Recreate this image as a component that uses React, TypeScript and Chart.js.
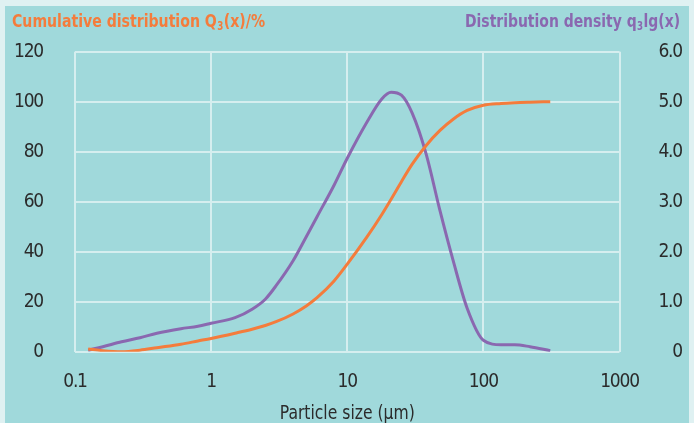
import React, { useEffect, useRef } from "react";
import { Chart, registerables } from "chart.js";

Chart.register(...registerables);

const sizes = [0.125, 0.16, 0.22, 0.3, 0.4, 0.6, 0.8, 1, 1.5, 2, 2.5, 3, 4, 5, 6, 8, 10, 14, 18, 21, 25, 30, 38, 48, 60, 76, 100, 135, 170, 220, 310];
const cumulative = [1.1, 0.4, 0, 0.6, 1.6, 3, 4.3, 5.3, 7.4, 9, 10.5, 12, 15.1, 18.3, 21.6, 28.3, 35, 46, 55, 61, 68, 75, 82.5, 88.5, 93, 96.5, 98.6, 99.3, 99.6, 99.8, 100];
const density = [0.03, 0.1, 0.2, 0.28, 0.37, 0.46, 0.51, 0.57, 0.68, 0.85, 1.05, 1.32, 1.82, 2.3, 2.7, 3.33, 3.87, 4.6, 5.06, 5.19, 5.13, 4.77, 3.95, 2.82, 1.82, 0.87, 0.23, 0.14, 0.14, 0.1, 0.02];
const xTicks = [0.1, 1, 10, 100, 1000];
const xTickLabels = ["0.1", "1", "10", "100", "1000"];

const leftTitle = ["Cumulative distribution Q", "3", "(x)/%"];
const rightTitle = ["Distribution density q", "3", "lg(x)"];
const xTitle = "Particle size (µm)";

const FONT = "'DejaVu Sans Condensed', 'Liberation Sans', sans-serif";
const ORANGE = "#f47c3c";
const PURPLE = "#8a68b0";
const TEAL = "#a0d9db";
const FRAME = "#dff1f2";
const GRID = "#d5eeef";
const TEXT = "#2b2b2b";

const drawParts = (
  ctx: CanvasRenderingContext2D,
  parts: string[],
  x: number,
  y: number,
  align: "left" | "right",
  targetWidth: number,
  color: string
) => {
  const big = `bold 18.5px ${FONT}`;
  const small = `bold 11.5px ${FONT}`;
  ctx.font = big;
  const w0 = ctx.measureText(parts[0]).width;
  const w2 = ctx.measureText(parts[2]).width;
  ctx.font = small;
  const w1 = ctx.measureText(parts[1]).width;
  const total = w0 + w1 + w2 + 1;
  const k = targetWidth / total;
  const start = align === "left" ? x : x - targetWidth;
  ctx.save();
  ctx.translate(start, y);
  ctx.scale(k, 1);
  ctx.fillStyle = color;
  ctx.textAlign = "left";
  ctx.textBaseline = "alphabetic";
  ctx.font = big;
  ctx.fillText(parts[0], 0, 0);
  ctx.font = small;
  ctx.fillText(parts[1], w0 + 0.5, 3.5);
  ctx.font = big;
  ctx.fillText(parts[2], w0 + w1 + 1, 0);
  ctx.restore();
};

const decorPlugin = {
  id: "decor",
  beforeDraw(chart: any) {
    const ctx = chart.ctx as CanvasRenderingContext2D;
    ctx.save();
    ctx.fillStyle = FRAME;
    ctx.fillRect(0, 0, chart.width, chart.height);
    ctx.fillStyle = TEAL;
    ctx.fillRect(5, 6, 684, chart.height - 6);
    ctx.restore();
    (ctx as any).letterSpacing = "-1.2px";
  },
  afterDraw(chart: any) {
    const ctx = chart.ctx as CanvasRenderingContext2D;
    (ctx as any).letterSpacing = "0px";
    ctx.save();
    drawParts(ctx, leftTitle, 12, 26.5, "left", 253, ORANGE);
    drawParts(ctx, rightTitle, 680, 26.5, "right", 215, PURPLE);
    const area = chart.chartArea;
    ctx.font = `20px ${FONT}`;
    const w = ctx.measureText(xTitle).width;
    const k = 135 / w;
    ctx.translate((area.left + area.right) / 2, 419);
    ctx.scale(k, 1);
    ctx.fillStyle = TEXT;
    ctx.textAlign = "center";
    ctx.textBaseline = "alphabetic";
    ctx.fillText(xTitle, 0, 0);
    ctx.restore();
  },
};

export default function App() {
  const ref = useRef<HTMLCanvasElement>(null);
  useEffect(() => {
    if (!ref.current) return;
    const tickFont = { family: FONT, size: 19 };
    const chart = new Chart(ref.current, {
      type: "line",
      data: {
        datasets: [
          {
            label: "Cumulative distribution",
            data: sizes.map((s, i) => ({ x: s, y: cumulative[i] })),
            borderColor: ORANGE,
            borderWidth: 3,
            pointRadius: 0,
            cubicInterpolationMode: "monotone",
            yAxisID: "y",
          },
          {
            label: "Distribution density",
            data: sizes.map((s, i) => ({ x: s, y: density[i] })),
            borderColor: PURPLE,
            borderWidth: 3,
            pointRadius: 0,
            cubicInterpolationMode: "monotone",
            yAxisID: "y1",
          },
        ],
      },
      options: {
        responsive: false,
        animation: false,
        layout: { padding: { top: 51.7, right: 12, left: 0, bottom: 0 } },
        plugins: { legend: { display: false }, tooltip: { enabled: false } },
        scales: {
          x: {
            type: "logarithmic",
            position: "bottom",
            min: 0.1,
            max: 1000,
            afterBuildTicks: (scale: any) => {
              scale.ticks = xTicks.map((v) => ({ value: v }));
            },
            afterFit: (scale: any) => {
              scale.height = 71.3;
            },
            ticks: {
              autoSkip: false,
              maxRotation: 0,
              padding: 19,
              color: TEXT,
              font: tickFont,
              callback: (v: any) => {
                const i = xTicks.indexOf(Number(v));
                return i >= 0 ? xTickLabels[i] : "";
              },
            },
            grid: { color: GRID, lineWidth: 2, drawTicks: false },
            border: { display: false },
          },
          y: {
            position: "left",
            min: 0,
            max: 120,
            afterFit: (scale: any) => {
              scale.width = 75;
            },
            ticks: { stepSize: 20, padding: 32, color: TEXT, font: tickFont },
            grid: { color: GRID, lineWidth: 2, drawTicks: false },
            border: { display: false },
          },
          y1: {
            position: "right",
            min: 0,
            max: 6,
            afterFit: (scale: any) => {
              scale.width = 62.5;
            },
            ticks: {
              stepSize: 1,
              crossAlign: "far",
              color: TEXT,
              font: tickFont,
              callback: (v: any) => (Number(v) === 0 ? "0" : Number(v).toFixed(1)),
            },
            grid: { display: false, drawTicks: false },
            border: { display: false },
          },
        },
      },
      plugins: [decorPlugin],
    } as any);
    return () => chart.destroy();
  }, []);
  return (
    <div style={{ position: "absolute", left: 0, top: 0, width: 694, height: 423 }}>
      <canvas ref={ref} width={694} height={423} style={{ display: "block", width: 694, height: 423 }} />
    </div>
  );
}
